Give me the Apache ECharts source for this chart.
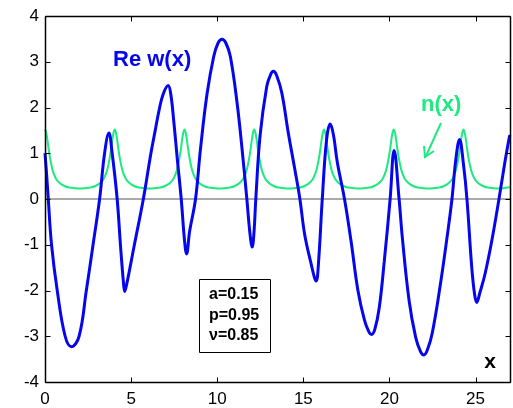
<!DOCTYPE html>
<html><head><meta charset="utf-8">
<script src="https://cdn.jsdelivr.net/npm/echarts@6/dist/echarts.min.js"></script>
<style>html,body{margin:0;padding:0;background:#fff}#c{width:513px;height:408px}</style>
</head><body><div id="c"></div>
<script>
// Re w(x)
const wX = [0,0.1,0.19,0.38,0.71,1.17,1.54,1.98,2.4,2.79,3.17,3.46,3.71,3.9,4.19,4.38,4.55,4.63,4.75,5.19,5.71,6.15,6.4,6.63,6.85,7.15,7.3,7.49,7.68,7.91,8.1,8.22,8.4,8.74,9.03,9.41,9.8,10.05,10.28,10.5,10.76,11.15,11.44,11.72,11.9,12.03,12.14,12.24,12.49,12.88,13.1,13.26,13.45,13.75,14.12,14.5,14.8,15.08,15.46,15.65,15.75,15.88,16.1,16.35,16.56,16.75,16.97,17.39,17.77,18.17,18.55,18.8,18.96,19.15,19.41,19.7,20.04,20.27,20.56,20.75,21.14,21.52,21.8,22.0,22.2,22.48,22.96,23.34,23.63,23.85,24.07,24.3,24.5,24.78,24.95,25.07,25.25,25.55,25.94,26.36,26.7,26.96,27];
const wY = [1.0,0.5,0,-1.0,-2.0,-3.0,-3.23,-3.0,-2.0,-1.0,0,1.0,1.44,1.0,0,-1.0,-1.8,-2.02,-1.85,-1.0,0,1.0,1.5,1.95,2.28,2.48,2.3,1.65,0.88,0,-0.9,-1.2,-0.7,0,1.1,2.3,3.12,3.41,3.49,3.41,3.12,2.11,1.1,0,-0.75,-1.05,-0.7,0,1.39,2.47,2.72,2.79,2.7,2.32,1.46,0.66,0,-0.78,-1.43,-1.72,-1.79,-1.4,0,1.3,1.64,1.4,0.81,0,-0.92,-2.0,-2.65,-2.9,-2.96,-2.85,-2.37,-1.36,0,1.06,0,-0.85,-2.22,-3.02,-3.33,-3.41,-3.3,-2.94,-1.86,-0.85,0,0.85,1.3,0.75,0,-1.5,-2.1,-2.26,-2.05,-1.64,-0.92,0,0.8,1.35,1.4];
// n(x)
const nX = [0,0.07,0.135,0.2,0.3,0.45,0.63,0.85,1.1,1.4,1.75,2.025,2.3,2.65,2.95,3.2,3.42,3.6,3.75,3.85,3.915,3.98,4.05,
4.12,4.185,4.25,4.35,4.5,4.68,4.9,5.15,5.45,5.8,6.075,6.35,6.7,7.0,7.25,7.47,7.65,7.8,7.9,7.965,8.03,8.1,
8.17,8.235,8.3,8.4,8.55,8.73,8.95,9.2,9.5,9.85,10.125,10.4,10.75,11.05,11.3,11.52,11.7,11.85,11.95,12.015,12.08,12.15,
12.22,12.285,12.35,12.45,12.6,12.78,13.0,13.25,13.55,13.9,14.175,14.45,14.8,15.1,15.35,15.57,15.75,15.9,16.0,16.065,16.13,16.2,
16.27,16.335,16.4,16.5,16.65,16.83,17.05,17.3,17.6,17.95,18.225,18.5,18.85,19.15,19.4,19.62,19.8,19.95,20.05,20.115,20.18,20.25,
20.32,20.385,20.45,20.55,20.7,20.88,21.1,21.35,21.65,22.0,22.275,22.55,22.9,23.2,23.45,23.67,23.85,24.0,24.1,24.165,24.23,24.3,
24.37,24.435,24.5,24.6,24.75,24.93,25.15,25.4,25.7,26.05,26.325,26.6,27.0];
const nY = [1.52,1.45,1.31,1.12,0.88,0.62,0.45,0.35,0.29,0.25,0.235,0.23,0.235,0.25,0.29,0.35,0.45,0.62,0.88,1.12,1.31,1.45,1.52,
1.45,1.31,1.12,0.88,0.62,0.45,0.35,0.29,0.25,0.235,0.23,0.235,0.25,0.29,0.35,0.45,0.62,0.88,1.12,1.31,1.45,1.52,
1.45,1.31,1.12,0.88,0.62,0.45,0.35,0.29,0.25,0.235,0.23,0.235,0.25,0.29,0.35,0.45,0.62,0.88,1.12,1.31,1.45,1.52,
1.45,1.31,1.12,0.88,0.62,0.45,0.35,0.29,0.25,0.235,0.23,0.235,0.25,0.29,0.35,0.45,0.62,0.88,1.12,1.31,1.45,1.52,
1.45,1.31,1.12,0.88,0.62,0.45,0.35,0.29,0.25,0.235,0.23,0.235,0.25,0.29,0.35,0.45,0.62,0.88,1.12,1.31,1.45,1.52,
1.45,1.31,1.12,0.88,0.62,0.45,0.35,0.29,0.25,0.235,0.23,0.235,0.25,0.29,0.35,0.45,0.62,0.88,1.12,1.31,1.45,1.52,
1.45,1.31,1.12,0.88,0.62,0.45,0.35,0.29,0.25,0.235,0.23,0.235,0.255];
const xTicks = [0,5,10,15,20,25];
const yTicks = [-4,-3,-2,-1,0,1,2,3,4];
const params = ['a=0.15','p=0.95','\u03bd=0.85'];

const blue = '#0505ee', green = '#1eea80';
const F = 'Arial, "Liberation Sans", sans-serif';
const chart = echarts.init(document.getElementById('c'), null, {renderer:'canvas'});
const wData = wX.map((x,i)=>[x,wY[i]]);
const nData = nX.map((x,i)=>[x,nY[i]]);
const X0 = 0, X1 = 27, Y0 = -4, Y1 = 4;
chart.setOption({
  animation:false,
  backgroundColor:'#fff',
  grid:{left:45,right:2,top:16,bottom:23.5},
  xAxis:{type:'value',min:X0,max:X1,interval:5,
    axisLine:{show:false},axisTick:{show:false},splitLine:{show:false},
    axisLabel:{color:'#000',fontSize:17,fontFamily:F,margin:9,
      formatter:v=>xTicks.includes(v)?String(v):''}},
  yAxis:{type:'value',min:Y0,max:Y1,interval:1,
    axisLine:{show:false},axisTick:{show:false},splitLine:{show:false},
    axisLabel:{color:'#000',fontSize:17,fontFamily:F,margin:6,
      formatter:v=>yTicks.includes(v)?String(v):''}},
  series:[
    {type:'line',data:[[X0,0],[X1,0]],symbol:'none',lineStyle:{color:'#555',width:1},z:1,silent:true},
    {type:'line',data:nData,symbol:'none',smooth:0.2,lineStyle:{color:green,width:2},z:2},
    {type:'line',data:wData,symbol:'none',smooth:0.4,lineStyle:{color:blue,width:3},z:3}
  ]
});
// frame and inward ticks (MATLAB-style box), positioned through the axes
const p = (x,y)=>chart.convertToPixel({gridIndex:0},[x,y]);
const tl = p(X0,Y1), br = p(X1,Y0);
const L = Math.round(tl[0])+0.5, T = Math.round(tl[1])+0.5, R = Math.round(br[0])+0.5, B = Math.round(br[1])+0.5;
const g = [];
const seg = (x1,y1,x2,y2,w)=>g.push({type:'line',z:50,shape:{x1,y1,x2,y2},style:{stroke:'#000',lineWidth:w||1}});
seg(L,T,R,T,1.5); seg(R,T,R,B,1.5); seg(L,B,R,B,1.5); seg(L,T,L,B,1.5);
xTicks.forEach(v=>{ const x = Math.round(p(v,0)[0])+0.5; seg(x,B,x,B-5); seg(x,T,x,T+5); });
yTicks.forEach(v=>{ const y = Math.round(p(0,v)[1])+0.5; seg(L,y,L+5,y); seg(R,y,R-5,y); });
g.push(
  {type:'text',left:113,top:49,z:20,style:{text:'Re w(x)',fill:blue,font:'bold 22px '+F}},
  {type:'text',left:421,top:94,z:20,style:{text:'n(x)',fill:green,font:'bold 22px '+F}},
  {type:'line',z:20,shape:{x1:441,y1:123,x2:426,y2:156},style:{stroke:green,lineWidth:2}},
  {type:'polyline',z:20,shape:{points:[[424,146],[425,157],[434,151]]},style:{stroke:green,lineWidth:2,fill:null}},
  {type:'rect',z:30,shape:{x:199.5,y:279.5,width:71,height:73},style:{fill:'#fff',stroke:'#000',lineWidth:1}},
  {type:'text',x:209,y:295,z:31,style:{text:params[0],fill:'#000',font:'bold 16px '+F,textVerticalAlign:'middle'}},
  {type:'text',x:209,y:315.5,z:31,style:{text:params[1],fill:'#000',font:'bold 16px '+F,textVerticalAlign:'middle'}},
  {type:'text',x:209,y:336,z:31,style:{text:params[2],fill:'#000',font:'bold 16px '+F,textVerticalAlign:'middle'}},
  {type:'text',x:490,y:362,z:31,style:{text:'x',fill:'#000',font:'bold 21px '+F,textAlign:'center',textVerticalAlign:'middle'}}
);
chart.setOption({graphic:g});
</script></body></html>
